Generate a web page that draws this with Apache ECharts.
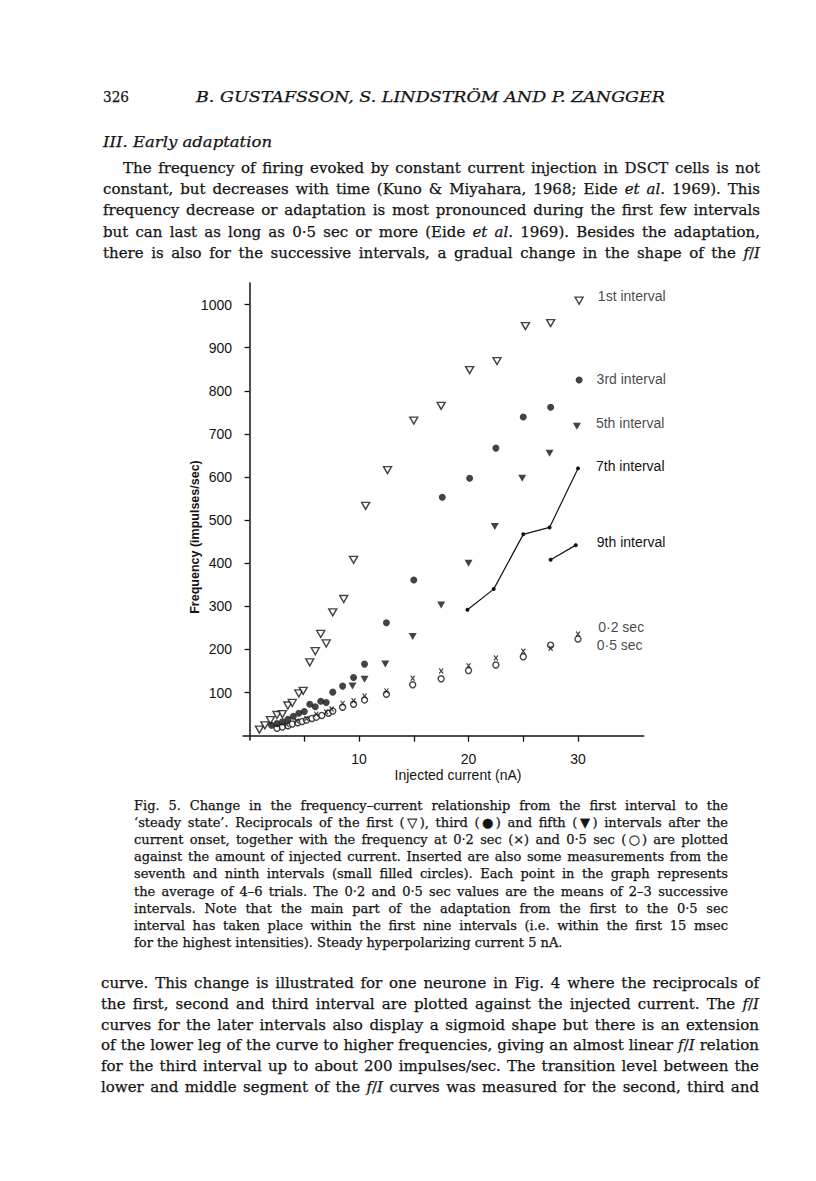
<!DOCTYPE html>
<html>
<head>
<meta charset="UTF-8" />
<script src="https://cdn.jsdelivr.net/npm/echarts@6/dist/echarts.min.js"></script>
<style type="text/css">
    *{
        margin: 0;
        padding: 0;
    }
    body{
        width: 816px;
        height: 1181px;
        background: #fff;
        position: relative;
        overflow: hidden;
        color: #141414;
    }
    #chart{
        position: absolute;
        left: 0;
        top: 0;
        width: 816px;
        height: 1181px;
    }
    .ln{
        position: absolute;
        white-space: nowrap;
        font-family: "DejaVu Serif", serif;
        line-height: 20px;
        -webkit-text-stroke: 0.25px #141414;
    }
    .para{ font-size: 15px; }
    .cap{ font-size: 13px; }
    .head{ font-size: 15px; font-style: italic; }
</style>
</head>
<body>
<div id="chart"></div>
<script type="text/javascript">
    // data: injected current (nA) / frequency (impulses/sec)
    var firstX = [0.9, 1.4, 1.9, 2.5, 3.0, 3.5, 3.9, 4.5, 4.9, 5.5, 6.0, 6.5, 7.0, 7.6, 8.6, 9.5, 10.6, 12.6, 15.0, 17.5, 20.1, 22.6, 25.2, 27.5, 30.1];
    var firstY = [14, 24, 36, 48, 50, 70, 76, 98, 104, 170, 196, 236, 214, 286, 317, 408, 533, 616, 731, 765, 848, 869, 950, 957, 1009];
    var thirdX = [2.0, 2.5, 3.0, 3.5, 4.0, 4.5, 5.0, 5.5, 6.0, 6.5, 7.0, 7.6, 8.5, 9.5, 10.5, 12.5, 15.0, 17.6, 20.1, 22.5, 25.0, 27.5, 30.1];
    var thirdY = [24, 28, 32, 38, 45, 52, 56, 73, 67, 80, 77, 101, 115, 135, 166, 262, 361, 553, 597, 667, 739, 762, 825];
    var fifthX = [9.4, 10.5, 12.4, 14.9, 17.5, 20.0, 22.4, 24.9, 27.4, 29.9];
    var fifthY = [115, 131, 166, 230, 303, 400, 485, 597, 655, 718];
    var seventhX = [19.9, 22.3, 25.0, 27.4, 30.0];
    var seventhY = [292, 340, 467, 483, 620];
    var ninthX = [27.5, 29.8];
    var ninthY = [408, 442];
    var sec02X = [3.4, 4.3, 5.2, 6.1, 7.0, 7.5, 8.5, 9.5, 10.5, 12.5, 14.9, 17.5, 20.0, 22.5, 25.0, 27.5, 30.0];
    var sec02Y = [26, 34, 40, 50, 55, 62, 75, 81, 92, 104, 133, 150, 162, 180, 196, 203, 236];
    var sec05X = [2.5, 3.0, 3.5, 3.9, 4.4, 4.8, 5.2, 5.7, 6.1, 6.6, 7.2, 7.6, 8.5, 9.5, 10.5, 12.5, 14.9, 17.5, 20.0, 22.5, 25.0, 27.5, 30.0];
    var sec05Y = [17, 20, 23, 27, 30, 33, 36, 40, 43, 47, 52, 57, 66, 73, 83, 96, 118, 132, 151, 164, 183, 210, 224];

    var xTicks = [5, 10, 15, 20, 25, 30];
    var xTickLabels = [10, 20, 30];
    var yTicks = [100, 200, 300, 400, 500, 600, 700, 800, 900, 1000];

    // page text
    var headLeft = '326';
    var headTitle = 'B. GUSTAFSSON, S. LINDSTRÖM AND P. ZANGGER';
    var sectionTitle = 'III. Early adaptation';
    var paraLines = [
        'The frequency of firing evoked by constant current injection in DSCT cells is not',
        'constant, but decreases with time (Kuno &amp; Miyahara, 1968; Eide <i>et al</i>. 1969). This',
        'frequency decrease or adaptation is most pronounced during the first few intervals',
        'but can last as long as 0·5 sec or more (Eide <i>et al</i>. 1969). Besides the adaptation,',
        'there is also for the successive intervals, a gradual change in the shape of the <i>f</i>/<i>I</i>'
    ];
    var captionLines = [
        'Fig. 5. Change in the frequency–current relationship from the first interval to the',
        '‘steady state’. Reciprocals of the first (▽), third (●) and fifth (▼) intervals after the',
        'current onset, together with the frequency at 0·2 sec (×) and 0·5 sec (○) are plotted',
        'against the amount of injected current. Inserted are also some measurements from the',
        'seventh and ninth intervals (small filled circles). Each point in the graph represents',
        'the average of 4–6 trials. The 0·2 and 0·5 sec values are the means of 2–3 successive',
        'intervals. Note that the main part of the adaptation from the first to the 0·5 sec',
        'interval has taken place within the first nine intervals (i.e. within the first 15 msec',
        'for the highest intensities). Steady hyperpolarizing current 5 nA.'
    ];
    var bodyLines = [
        'curve. This change is illustrated for one neurone in Fig. 4 where the reciprocals of',
        'the first, second and third interval are plotted against the injected current. The <i>f</i>/<i>I</i>',
        'curves for the later intervals also display a sigmoid shape but there is an extension',
        'of the lower leg of the curve to higher frequencies, giving an almost linear <i>f</i>/<i>I</i> relation',
        'for the third interval up to about 200 impulses/sec. The transition level between the',
        'lower and middle segment of the <i>f</i>/<i>I</i> curves was measured for the second, third and'
    ];

    // 把一行文字放到页面上：mode 'justify' 两端对齐（太宽就压缩），'fit' 直接缩放到宽度
    function placeLine(html, cls, left, cy, width, mode) {
        var d = document.createElement('div');
        d.className = 'ln ' + cls;
        d.innerHTML = '<span>' + html + '</span>';
        d.style.left = left + 'px';
        d.style.top = (cy - 10) + 'px';
        document.body.appendChild(d);
        if (!width) return;
        var w = d.firstChild.getBoundingClientRect().width;
        if (mode === 'fit' || w > width - 1) {
            d.style.transformOrigin = '0 50%';
            d.style.transform = 'scaleX(' + (width / w) + ')';
        } else if (mode === 'justify') {
            d.style.whiteSpace = 'normal';
            d.style.width = width + 'px';
            d.style.textAlign = 'justify';
            d.style.textAlignLast = 'justify';
        }
    }

    placeLine(headLeft, 'para', 103, 97, 26, 'fit');
    placeLine(headTitle, 'head', 196, 97, 469, 'fit');
    placeLine(sectionTitle, 'head', 103, 142, 169, 'fit');
    for (var i = 0; i < paraLines.length; i++) {
        var l = i === 0 ? 123 : 103;
        placeLine(paraLines[i], 'para', l, 168 + i * 21.2, 760 - l, 'justify');
    }
    for (var i = 0; i < captionLines.length; i++) {
        placeLine(captionLines[i], 'cap', 134, 806 + i * 17.1, 594, i < captionLines.length - 1 ? 'justify' : '');
    }
    for (var i = 0; i < bodyLines.length; i++) {
        placeLine(bodyLines[i], 'para', 101, 983 + i * 20.8, 658, 'justify');
    }

    // pairs for the scatter, last point carries the series label
    function pairs(xs, ys, text, dist, dy) {
        var out = [];
        for (var i = 0; i < xs.length; i++) {
            out.push([xs[i], ys[i]]);
        }
        if (text) {
            var last = out.length - 1;
            out[last] = {
                value: out[last],
                label: {
                    show: true, formatter: text, position: 'right',
                    distance: dist, offset: [0, dy],
                    color: '#141414', fontSize: 14, fontFamily: 'Liberation Sans'
                }
            };
        }
        return out;
    }

    var ink = '#141414';
    var openStyle = {color: '#fff', borderColor: ink, borderWidth: 1.4};
    var fillStyle = {color: ink};

    var myChart = echarts.init(document.getElementById('chart'), null, {renderer: 'svg'});
    var option = {
        animation: false,
        grid: {left: 243, top: 283, width: 400.7, height: 457},
        xAxis: {
            type: 'value', min: -0.6, max: 36,
            splitLine: {show: false},
            axisLine: {onZero: true, lineStyle: {color: ink, width: 1.5}},
            axisTick: {customValues: xTicks, length: 6, lineStyle: {color: ink, width: 1.3}},
            axisLabel: {
                customValues: xTickLabels, margin: 12, color: ink, fontSize: 14, fontFamily: 'Liberation Sans',
                formatter: function (v) { return String(v); }
            }
        },
        yAxis: {
            type: 'value', min: -10, max: 1050,
            splitLine: {show: false},
            axisLine: {onZero: true, lineStyle: {color: ink, width: 1.5}},
            axisTick: {customValues: yTicks, length: 5, lineStyle: {color: ink, width: 1.3}},
            axisLabel: {
                customValues: yTicks, margin: 11, color: ink, fontSize: 14, fontFamily: 'Liberation Sans',
                formatter: function (v) { return String(v); }
            }
        },
        graphic: [
            {
                type: 'text', x: 195, y: 537, rotation: Math.PI / 2,
                style: {
                    text: 'Frequency (impulses/sec)', fill: ink, align: 'center', verticalAlign: 'middle',
                    font: 'bold 12.5px "Liberation Sans"'
                }
            },
            {
                type: 'text', x: 458, y: 775,
                style: {
                    text: 'Injected current (nA)', fill: ink, align: 'center', verticalAlign: 'middle',
                    font: '14px "Liberation Sans"'
                }
            }
        ],
        series: [
            {
                name: '0·5 sec', type: 'scatter', symbol: 'circle', symbolSize: 6,
                itemStyle: openStyle, data: pairs(sec05X, sec05Y, '0·5 sec', 15, 6)
            },
            {
                name: '0·2 sec', type: 'scatter', symbol: 'path://M0,0L8,8M8,0L0,8', symbolSize: [4, 5],
                itemStyle: {color: 'none', borderColor: ink, borderWidth: 1.2},
                data: pairs(sec02X, sec02Y, '0·2 sec', 16, -7)
            },
            {
                name: '1st interval', type: 'scatter', symbol: 'triangle', symbolRotate: 180, symbolSize: [8, 7],
                itemStyle: openStyle, data: pairs(firstX, firstY, '1st interval', 14, -5)
            },
            {
                name: '3rd interval', type: 'scatter', symbol: 'circle', symbolSize: 7,
                itemStyle: fillStyle, data: pairs(thirdX, thirdY, '3rd interval', 14, -1)
            },
            {
                name: '5th interval', type: 'scatter', symbol: 'triangle', symbolRotate: 180, symbolSize: [8, 7],
                itemStyle: fillStyle, data: pairs(fifthX, fifthY, '5th interval', 15, -3)
            },
            {
                name: '7th interval', type: 'line', symbol: 'circle', symbolSize: 4, showAllSymbol: true,
                itemStyle: fillStyle, lineStyle: {color: ink, width: 1.2},
                data: pairs(seventhX, seventhY, '7th interval', 16, -2)
            },
            {
                name: '9th interval', type: 'line', symbol: 'circle', symbolSize: 4, showAllSymbol: true,
                itemStyle: fillStyle, lineStyle: {color: ink, width: 1.2},
                data: pairs(ninthX, ninthY, '9th interval', 19, -3)
            }
        ]
    };
    myChart.setOption(option);
</script>
</body>
</html>
